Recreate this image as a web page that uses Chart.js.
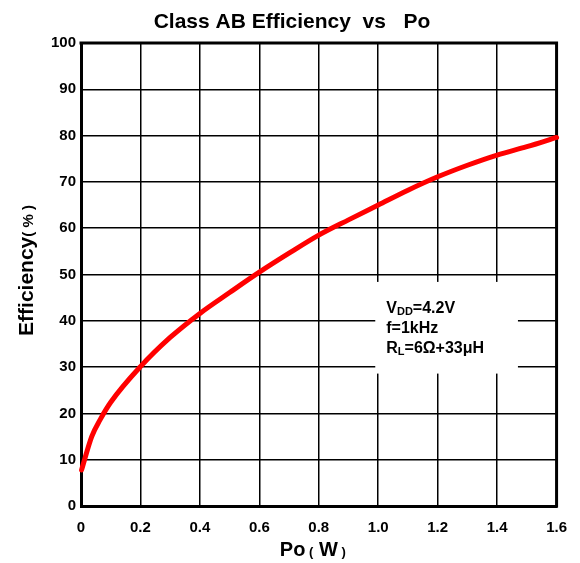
<!DOCTYPE html>
<html>
<head>
<meta charset="utf-8">
<title>Class AB Efficiency vs Po</title>
<script src="https://cdn.jsdelivr.net/npm/chart.js@4.4.1/dist/chart.umd.min.js"></script>
<style>
  html, body { margin: 0; padding: 0; background: #fff; }
  #wrap { width: 580px; height: 563px; }
</style>
</head>
<body>
<div id="wrap"><canvas id="effChart" width="580" height="563"></canvas></div>
<script>
// Po (W) and efficiency (%)
const poValues = [0.002, 0.036, 0.064, 0.1, 0.2, 0.3, 0.4, 0.5, 0.6, 0.7, 0.8, 0.9, 1.0, 1.1, 1.2, 1.3, 1.4, 1.5, 1.6];
const effValues = [7.8, 15.0, 18.6, 22.4, 30.1, 36.4, 41.6, 46.1, 50.5, 54.6, 58.5, 61.8, 65.0, 68.2, 71.1, 73.6, 75.8, 77.6, 79.6];

const xTicks = [0, 0.2, 0.4, 0.6, 0.8, 1.0, 1.2, 1.4, 1.6];
const xTickLabels = ['0', '0.2', '0.4', '0.6', '0.8', '1.0', '1.2', '1.4', '1.6'];
const yTicks = [0, 10, 20, 30, 40, 50, 60, 70, 80, 90, 100];

const chartTitle = 'Class AB Efficiency  vs   Po';
// test conditions, [main, subscript, rest]
const conditionLines = [
    ['V', 'DD', '=4.2V'],
    ['f=1kHz', '', ''],
    ['R', 'L', '=6\u03A9+33\u03BCH']
];

const FONT = '"Liberation Sans", Arial, Helvetica, sans-serif';

function font(size) {
    return 'bold ' + size + 'px ' + FONT;
}

// draw a run of text pieces with different sizes on one baseline
function drawParts(ctx, parts, x, y, align) {
    let total = 0;
    parts.forEach(p => {
        ctx.font = font(p.size);
        p.w = ctx.measureText(p.t).width;
        total += p.w;
    });
    let cx = align === 'center' ? x - total / 2 : x;
    parts.forEach(p => {
        ctx.font = font(p.size);
        ctx.fillText(p.t, cx, y + (p.dy || 0));
        cx += p.w;
    });
}

const decorations = {
    id: 'decorations',
    beforeDatasetsDraw(chart) {
        const ctx = chart.ctx;
        const a = chart.chartArea;
        const xs = chart.scales.x;
        const ys = chart.scales.y;
        ctx.save();

        // white box for conditions
        const bx0 = xs.getPixelForValue(0.99);
        const bx1 = xs.getPixelForValue(1.47);
        const by0 = ys.getPixelForValue(48.4);
        const by1 = ys.getPixelForValue(28.6);
        ctx.fillStyle = '#fff';
        ctx.fillRect(bx0, by0, bx1 - bx0, by1 - by0);

        ctx.fillStyle = '#000';
        ctx.textAlign = 'left';
        ctx.textBaseline = 'alphabetic';
        conditionLines.forEach((ln, i) => {
            const y = by0 + 31 + i * 20;
            const parts = [{ t: ln[0], size: 16 }];
            if (ln[1]) parts.push({ t: ln[1], size: 11, dy: 2 });
            if (ln[2]) parts.push({ t: ln[2], size: 16 });
            drawParts(ctx, parts, bx0 + 11, y, 'left');
        });

        // top and right frame
        ctx.strokeStyle = '#000';
        ctx.lineWidth = 3;
        ctx.beginPath();
        ctx.moveTo(a.left - 1.5, a.top);
        ctx.lineTo(a.right, a.top);
        ctx.lineTo(a.right, a.bottom + 1.5);
        ctx.stroke();
        ctx.restore();
    },
    afterDraw(chart) {
        const ctx = chart.ctx;
        const a = chart.chartArea;
        ctx.save();
        ctx.fillStyle = '#000';
        ctx.textAlign = 'left';
        ctx.textBaseline = 'alphabetic';

        // title
        drawParts(ctx, [{ t: chartTitle, size: 21 }], 292, 28, 'center');

        // x axis title
        drawParts(ctx, [
            { t: 'Po', size: 20 },
            { t: ' (', size: 13 },
            { t: ' W', size: 20 },
            { t: ' )', size: 13 }
        ], (a.left + a.right) / 2 - 6, 556, 'center');

        // y axis title
        ctx.translate(33, (a.top + a.bottom) / 2 - 4);
        ctx.rotate(-Math.PI / 2);
        drawParts(ctx, [
            { t: 'Efficiency', size: 21 },
            { t: '( % )', size: 15 }
        ], 0, 0, 'center');
        ctx.restore();
    }
};

new Chart(document.getElementById('effChart'), {
    type: 'line',
    data: {
        datasets: [{
            data: poValues.map((x, i) => ({ x: x, y: effValues[i] })),
            borderColor: '#ff0000',
            borderWidth: 5,
            pointRadius: 0,
            fill: false,
            cubicInterpolationMode: 'monotone',
            borderJoinStyle: 'round',
            borderCapStyle: 'round',
            clip: 4
        }]
    },
    options: {
        responsive: false,
        animation: false,
        layout: { padding: { top: 43, right: 23, left: 0, bottom: 0 } },
        plugins: {
            legend: { display: false },
            title: { display: false },
            tooltip: { enabled: false }
        },
        scales: {
            x: {
                type: 'linear',
                min: 0,
                max: 1.6,
                afterBuildTicks: s => { s.ticks = xTicks.map(v => ({ value: v })); },
                afterFit: s => { s.height = 57; },
                ticks: {
                    color: '#000',
                    font: { family: FONT, size: 15, weight: 'bold' },
                    padding: 13,
                    maxRotation: 0,
                    autoSkip: false,
                    callback: (v, i) => xTickLabels[i]
                },
                grid: { color: '#000', lineWidth: 1.5, drawTicks: false },
                border: { display: true, color: '#000', width: 3 }
            },
            y: {
                min: 0,
                max: 100,
                afterBuildTicks: s => { s.ticks = yTicks.map(v => ({ value: v })); },
                afterFit: s => { s.width = 81; },
                ticks: {
                    color: '#000',
                    font: { family: FONT, size: 15, weight: 'bold' },
                    padding: 5,
                    autoSkip: false
                },
                grid: { color: '#000', lineWidth: 1.5, drawTicks: false },
                border: { display: true, color: '#000', width: 3 }
            }
        }
    },
    plugins: [decorations]
});
</script>
</body>
</html>
